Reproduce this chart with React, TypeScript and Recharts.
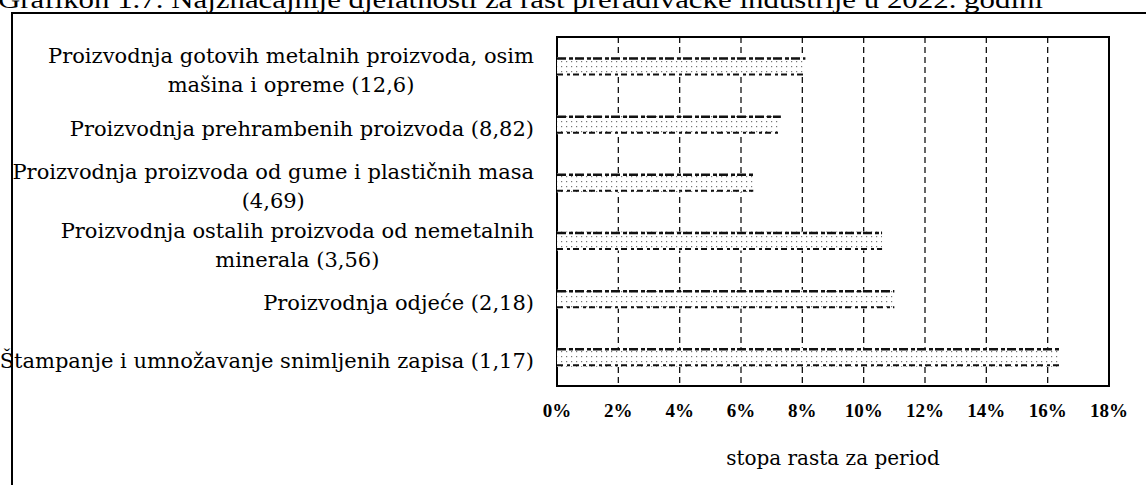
import React from 'react';
import { BarChart, Bar, XAxis, YAxis, CartesianGrid, ReferenceArea } from 'recharts';

// ---- data ----
const categories: string[] = [
  'Proizvodnja gotovih metalnih proizvoda, osim mašina i opreme (12,6)',
  'Proizvodnja prehrambenih proizvoda (8,82)',
  'Proizvodnja proizvoda od gume i plastičnih masa (4,69)',
  'Proizvodnja ostalih proizvoda od nemetalnih minerala (3,56)',
  'Proizvodnja odjeće (2,18)',
  'Štampanje i umnožavanje snimljenih zapisa (1,17)',
];
const labelLines: string[][] = [
  ['Proizvodnja gotovih metalnih proizvoda, osim', 'mašina i opreme (12,6)'],
  ['Proizvodnja prehrambenih proizvoda (8,82)'],
  ['Proizvodnja proizvoda od gume i plastičnih masa', '(4,69)'],
  ['Proizvodnja ostalih proizvoda od nemetalnih', 'minerala (3,56)'],
  ['Proizvodnja odjeće (2,18)'],
  ['Štampanje i umnožavanje snimljenih zapisa (1,17)'],
];
const growthRates: number[] = [8.1, 7.3, 6.4, 10.6, 11.0, 16.4];
const xTicks: number[] = [0, 2, 4, 6, 8, 10, 12, 14, 16, 18];
const chartTitle = 'Grafikon 1.7. Najznačajnije djelatnosti za rast prerađivačke industrije u 2022. godini';
const axisTitle = 'stopa rasta za period';

const data = categories.map((name, i) => ({ name, value: growthRates[i] }));

const serif = '"DejaVu Serif", "Liberation Serif", serif';

const YTick = (props: any) => {
  const { y, payload } = props;
  const idx = categories.indexOf(payload.value);
  const lines = labelLines[idx] || [String(payload.value)];
  return (
    <foreignObject x={0} y={y - 40 + 5} width={534} height={80}>
      <div
        style={{
          height: 80,
          display: 'flex',
          alignItems: 'center',
          justifyContent: 'flex-end',
        }}
      >
        <div
          style={{
            textAlign: 'center',
            fontFamily: serif,
            fontSize: 21,
            lineHeight: '29px',
            color: '#000',
            whiteSpace: 'nowrap',
          }}
        >
          {lines.map((l, i) => (
            <div key={i}>{l}</div>
          ))}
        </div>
      </div>
    </foreignObject>
  );
};

const XTick = (props: any) => {
  const { x, y, payload } = props;
  return (
    <text
      x={x}
      y={y + 31}
      textAnchor="middle"
      style={{ fontFamily: '"Liberation Serif", serif', fontWeight: 'bold', fontSize: 19 }}
      fill="#000"
    >
      {`${payload.value}%`}
    </text>
  );
};

const AxisTitle = (props: any) => {
  const vb = props.viewBox || { x: 557, width: 552 };
  return (
    <text
      x={vb.x + vb.width / 2}
      y={465}
      textAnchor="middle"
      style={{ fontFamily: serif, fontSize: 20 }}
      fill="#000"
    >
      {axisTitle}
    </text>
  );
};

const HalftoneBar = (props: any) => {
  const { x, y, width, height } = props;
  if (!width || width <= 0) return null;
  return (
    <g>
      <rect x={x} y={y} width={width} height={height} fill="url(#halftone)" />
      <line x1={x} x2={x + width} y1={y + 1.5} y2={y + 1.5} stroke="#111" strokeWidth={2.5} strokeDasharray="9 3 4 2" />
      <line
        x1={x}
        x2={x + width}
        y1={y + height - 1.5}
        y2={y + height - 1.5}
        stroke="#111"
        strokeWidth={2}
        strokeDasharray="6 4 3 3"
      />
    </g>
  );
};

export default function App() {
  return (
    <div
      style={{
        position: 'absolute',
        left: 0,
        top: 0,
        width: 1146,
        height: 485,
        overflow: 'hidden',
        background: '#fff',
      }}
    >
      <svg width={0} height={0} style={{ position: 'absolute' }}>
        <defs>
          <pattern id="halftone" width={5} height={5} patternUnits="userSpaceOnUse">
            <rect width={5} height={5} fill="#fff" />
            <rect x={1} y={1} width={1.2} height={1.2} fill="#777" />
          </pattern>
        </defs>
      </svg>
      <div style={{ position: 'absolute', left: 0, top: 0 }}>
        <BarChart
          width={1146}
          height={485}
          data={data}
          layout="vertical"
          margin={{ top: 37, right: 37, bottom: 0, left: 0 }}
        >
          <CartesianGrid horizontal={false} vertical stroke="#111" strokeDasharray="6 4" strokeWidth={1.3} />
          <XAxis
            type="number"
            domain={[0, 18]}
            ticks={xTicks}
            interval={0}
            height={99}
            axisLine={false}
            tickLine={false}
            tickSize={0}
            tickMargin={0}
            tick={<XTick />}
            label={<AxisTitle />}
          />
          <YAxis
            type="category"
            dataKey="name"
            width={557}
            axisLine={false}
            tickLine={false}
            tickSize={0}
            tickMargin={0}
            interval={0}
            tick={<YTick />}
          />
          <Bar dataKey="value" barSize={19} isAnimationActive={false} shape={<HalftoneBar />} />
          <ReferenceArea x1={0} x2={18} fill="none" stroke="#000" strokeWidth={2} ifOverflow="visible" />
        </BarChart>
      </div>
      <svg
        width={1146}
        height={485}
        style={{ position: 'absolute', left: 0, top: 0, pointerEvents: 'none' }}
      >
        <text
          x={-2}
          y={8}
          style={{ fontFamily: '"Liberation Serif", serif', fontSize: 25 }}
          textLength={1045}
          lengthAdjust="spacingAndGlyphs"
          fill="#000"
        >
          {chartTitle}
        </text>
        <path d="M 12 485 V 13 H 1146" fill="none" stroke="#000" strokeWidth={2} />
      </svg>
    </div>
  );
}
